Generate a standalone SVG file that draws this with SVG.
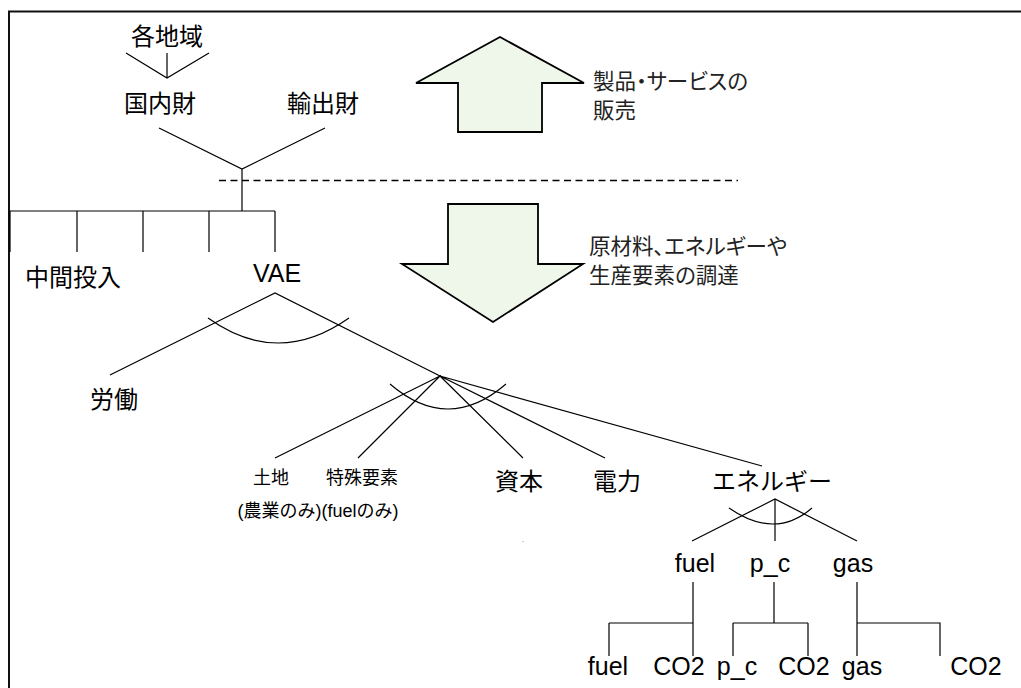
<svg xmlns="http://www.w3.org/2000/svg" width="1021" height="688" viewBox="0 0 1021 688">
<style>
.ln{stroke:#000;stroke-width:1.2;fill:none}
.arr{fill:#eff7eb;stroke:#000;stroke-width:1.8}
.jp{font-family:"Liberation Sans","Noto Sans CJK JP",sans-serif;font-size:24px;fill:#000;text-anchor:middle;dominant-baseline:central}
.sm{font-size:18px}
.lat{font-family:"Liberation Sans","Noto Sans CJK JP",sans-serif;font-size:25px;fill:#000;text-anchor:middle}
.note{font-family:"Noto Sans CJK JP",sans-serif;font-size:21.5px;fill:#222;dominant-baseline:central;font-feature-settings:"palt"}
</style>
<rect width="1021" height="688" fill="#fff"/>
<path d="M9,688 V11.5 H1021" fill="none" stroke="#111" stroke-width="2"/>

<g id="connectors">
  <path class="ln" d="M126,53 L167,78 L209,53 M167,53 V78"/>
  <path class="ln" d="M159,128 L242,169 L325,128 M242,169 V211"/>
  <path d="M219,180.5 H738" stroke="#000" stroke-width="1.5" stroke-dasharray="7,4.5" fill="none"/>
  <path class="ln" d="M10,211 H275 M10,211 V252 M77,211 V252 M143,211 V252 M209,211 V252 M275,211 V252"/>
  <path class="ln" d="M110,375 L275,293 L440,376"/>
  <path class="ln" d="M208,318 Q278,368 349,318"/>
  <path class="ln" d="M275,458 L440,376 M358,458 L440,376 M523,458 L440,376 M605,458 L440,376 M762,466 L440,376"/>
  <path class="ln" d="M390,384 Q448,434 506,384"/>
  <path class="ln" d="M692,541 L775,499 L857,541 M775,499 V541"/>
  <path class="ln" d="M729,508 Q775,540 812,508"/>
  <path class="ln" d="M693,582 V656 M609,623 H693 M609,623 V656"/>
  <path class="ln" d="M774,582 V623 M733,623 H808 M733,623 V656 M808,623 V656"/>
  <path class="ln" d="M857,582 V656 M857,623 H940 V656"/>
</g>

<g id="arrow-up"><polygon class="arr" points="500,37 584,83 542,83 542,132 458,132 458,83 416,83"/></g>
<g id="arrow-down"><polygon class="arr" points="448,204 538,204 538,264 583,264 493,322 402,264 448,264"/></g>

<g id="label-sales">
  <text class="note" x="593" y="79">製品・サービスの</text>
  <text class="note" x="593" y="108">販売</text>
</g>
<g id="label-procure">
  <text class="note" x="589" y="244">原材料、エネルギーや</text>
  <text class="note" x="589" y="273">生産要素の調達</text>
</g>

<g id="n-regions"><text class="jp" x="167" y="36">各地域</text></g>
<g id="n-domestic"><text class="jp" x="160" y="103">国内財</text></g>
<g id="n-export"><text class="jp" x="323" y="103">輸出財</text></g>
<g id="n-intermediate"><text class="jp" x="73" y="277">中間投入</text></g>
<g id="n-vae"><text class="lat" x="277" y="282">VAE</text></g>
<g id="n-labor"><text class="jp" x="114" y="399">労働</text></g>
<g id="n-land"><text class="jp sm" x="271" y="478">土地</text></g>
<g id="n-special"><text class="jp sm" x="362" y="478">特殊要素</text></g>
<g id="n-note"><text class="jp sm" x="318" y="511">(農業のみ)(fuelのみ)</text></g>
<g id="n-capital"><text class="jp" x="519" y="481">資本</text></g>
<g id="n-electricity"><text class="jp" x="617" y="481">電力</text></g>
<g id="n-energy"><text class="jp" x="772" y="481">エネルギー</text></g>
<g id="n-fuel"><text class="lat" x="695" y="572">fuel</text></g>
<g id="n-pc"><text class="lat" x="770" y="572">p_c</text></g>
<g id="n-gas"><text class="lat" x="853" y="572">gas</text></g>
<g id="n-fuel2"><text class="lat" x="608" y="675">fuel</text></g>
<g id="n-co2a"><text class="lat" x="679" y="675">CO2</text></g>
<g id="n-pc2"><text class="lat" x="737" y="675">p_c</text></g>
<g id="n-co2b"><text class="lat" x="804" y="675">CO2</text></g>
<g id="n-gas2"><text class="lat" x="862" y="675">gas</text></g>
<g id="n-co2c"><text class="lat" x="976" y="675">CO2</text></g>
<rect x="522.5" y="541" width="1" height="1" fill="#999"/>
</svg>
